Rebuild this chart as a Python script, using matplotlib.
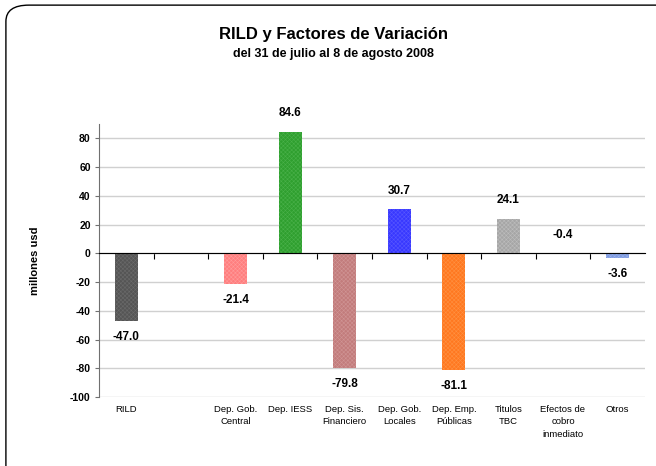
import matplotlib
matplotlib.use("Agg")
import matplotlib.pyplot as plt
import matplotlib.transforms as mtransforms
from matplotlib.patches import FancyBboxPatch

plt.rcParams['font.family'] = ['Liberation Sans', 'DejaVu Sans']
plt.rcParams['hatch.linewidth'] = 0.4

# --- data ---------------------------------------------------------------
categories = ["RILD", "", "Dep. Gob.\nCentral", "Dep. IESS", "Dep. Sis.\nFinanciero",
              "Dep. Gob.\nLocales", "Dep. Emp.\nPúblicas", "Titulos\nTBC",
              "Efectos de\ncobro\ninmediato", "Otros"]
values = [-47.0, None, -21.4, 84.6, -79.8, 30.7, -81.1, 24.1, -0.4, -3.6]
bar_colors = ["#555555", None, "#ff7e7e", "#2f9f2f", "#c27c7c", "#3838ff",
              "#ff7820", "#a6a6a6", "#7f9be0", "#7f9be0"]
hatch_colors = ["#6a6a6a", None, "#ff9a9a", "#48b048", "#d09494", "#5656ff",
                "#ff9040", "#bcbcbc", "#98b0ea", "#98b0ea"]
yticks = [-100, -80, -60, -40, -20, 0, 20, 40, 60, 80]

# --- figure -------------------------------------------------------------
fig = plt.figure(figsize=(6.56, 4.66), dpi=100)
# chart border, cut off on the right and bottom like the source image
fig.patches.append(FancyBboxPatch((0.009, -0.1), 1.05, 1.089,
                                  boxstyle="round,pad=0,rounding_size=0.035",
                                  transform=fig.transFigure, fill=False,
                                  edgecolor="black", linewidth=1.0))

ax = fig.add_axes([0.151, 0.148, 0.832, 0.586])
ax.set_xlim(-0.5, len(categories) - 0.5)
ax.set_ylim(-100, 90)

for i, v in enumerate(values):
    if v is None:
        continue
    ax.bar(i, v, width=0.42, color=bar_colors[i], edgecolor=hatch_colors[i],
           hatch="xxxxxxxx", linewidth=0, zorder=3)
    # value label outside the end of the bar
    if v > -1:
        ax.annotate(f"{v:.1f}", (i, max(v, 0)), xytext=(0, 9), textcoords="offset points",
                    ha="center", va="bottom", fontsize=8.5, fontweight="bold")
    else:
        ax.annotate(f"{v:.1f}", (i, v), xytext=(0, -7), textcoords="offset points",
                    ha="center", va="top", fontsize=8.5, fontweight="bold")

# grid and axes
ax.set_yticks(yticks)
ax.set_yticklabels([str(t) for t in yticks], fontsize=7.5, fontweight="bold")
ax.yaxis.grid(True, color="#d0d0d0", linewidth=1, zorder=0)
ax.set_axisbelow(True)
ax.spines['top'].set_visible(False)
ax.spines['right'].set_visible(False)
ax.spines['bottom'].set_position(('data', 0))
ax.spines['bottom'].set_zorder(4)
ax.spines['left'].set_color("#707070")
ax.tick_params(axis='y', length=3, color="#707070", pad=3)

# ticks between categories on the zero line
ax.set_xticks([i + 0.5 for i in range(len(categories) - 1)])
ax.set_xticklabels([])
ax.tick_params(axis='x', length=4, direction='out', color="black")

# category labels below the plot area
trans = mtransforms.blended_transform_factory(ax.transData, ax.transAxes)
for i, name in enumerate(categories):
    ax.text(i, -0.03, name, transform=trans, ha="center", va="top",
            fontsize=6.8, linespacing=1.45)

ax.set_ylabel("millones usd", fontsize=8, fontweight="bold", labelpad=22)

fig.text(0.508, 0.925, "RILD y Factores de Variación", ha="center", va="center",
         fontsize=12, fontweight="bold")
fig.text(0.508, 0.885, "del 31 de julio al 8 de agosto 2008", ha="center", va="center",
         fontsize=9, fontweight="bold")

fig.savefig("out.png", dpi=100)
